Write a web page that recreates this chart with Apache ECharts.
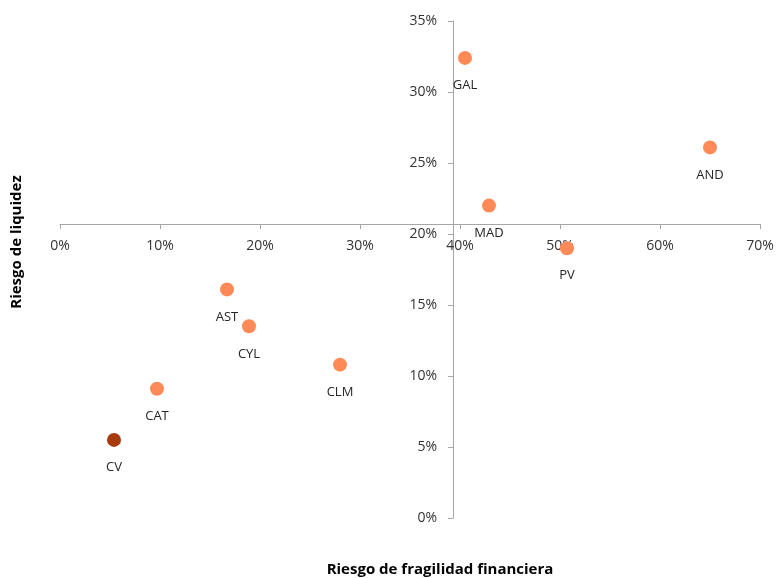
<!DOCTYPE html>
<html>
<head>
<meta charset="utf-8">
<script src="https://cdn.jsdelivr.net/npm/echarts@6/dist/echarts.min.js"></script>
<style>
html,body{margin:0;padding:0;background:#fff;}
#chart{width:778px;height:578px;}
</style>
</head>
<body>
<div id="chart"></div>
<script>
// Data (percent values)
const regions = ['GAL','AND','MAD','PV','AST','CYL','CLM','CAT','CV'];
const fragilidad = [40.5, 65.0, 42.9, 50.7, 16.7, 18.9, 28.0, 9.7, 5.4];
const liquidez   = [32.4, 26.1, 22.0, 19.0, 16.1, 13.5, 10.8, 9.1, 5.5];
const highlighted = ['CV'];
// Axis crossing values
const xCross = 39.3; // where the vertical axis crosses the horizontal one
const yCross = 20.7; // where the horizontal axis crosses the vertical one
const xMin = 0, xMax = 70, xStep = 10;
const yMin = 0, yMax = 35, yStep = 5;
const xTitle = 'Riesgo de fragilidad financiera';
const yTitle = 'Riesgo de liquidez';

const W = 778, H = 578;
const gridL = 60, gridR = 18, gridT = 21, gridB = 60;
const plotW = W - gridL - gridR, plotH = H - gridT - gridB;
const font = '"Open Sans", "Noto Sans", sans-serif';
const txt = '#333333';
const lineCol = '#A6A6A6';

const chart = echarts.init(document.getElementById('chart'), null, {renderer:'canvas'});
chart.setOption({
  backgroundColor: '#fff',
  animation: false,
  textStyle: {fontFamily: font},
  grid: {left: gridL, right: gridR, top: gridT, bottom: gridB, containLabel: false},
  graphic: [
    {type:'text', x: 440, y: 570, style:{text: xTitle, font: 'bold 15px ' + font, fill: '#000', align:'center', verticalAlign:'middle'}},
    {type:'text', x: 17, y: 242, rotation: Math.PI/2, style:{text: yTitle, font: 'bold 15px ' + font, fill: '#000', align:'center', verticalAlign:'middle'}}
  ],
  xAxis: {
    type: 'value', min: xMin, max: xMax, interval: xStep,
    position: 'bottom',
    offset: -(plotH * (yCross - yMin) / (yMax - yMin)),
    splitLine: {show: false},
    axisLine: {show: true, onZero: false, lineStyle: {color: lineCol, width: 1}},
    axisTick: {show: true, inside: false, length: 5, lineStyle: {color: lineCol}},
    axisLabel: {formatter: '{value}%', color: txt, fontSize: 14, margin: 15, fontFamily: font}
  },
  yAxis: {
    type: 'value', min: yMin, max: yMax, interval: yStep,
    position: 'left',
    offset: -(plotW * (xCross - xMin) / (xMax - xMin)),
    splitLine: {show: false},
    axisLine: {show: true, onZero: false, lineStyle: {color: lineCol, width: 1}},
    axisTick: {show: true, inside: false, length: 5, lineStyle: {color: lineCol}},
    axisLabel: {formatter: '{value}%', color: txt, fontSize: 14, margin: 16, fontFamily: font}
  },
  series: [{
    type: 'scatter',
    symbolSize: 14,
    data: regions.map((r, i) => ({
      name: r,
      value: [fragilidad[i], liquidez[i]],
      itemStyle: {color: highlighted.includes(r) ? '#A83A0D' : '#FF8A57', opacity: 1}
    })),
    itemStyle: {opacity: 1},
    label: {
      show: true, position: 'bottom', distance: 14,
      formatter: p => p.name,
      color: '#262626', fontSize: 13, fontFamily: font
    },
    emphasis: {disabled: true},
    z: 3
  }]
});
</script>
</body>
</html>
